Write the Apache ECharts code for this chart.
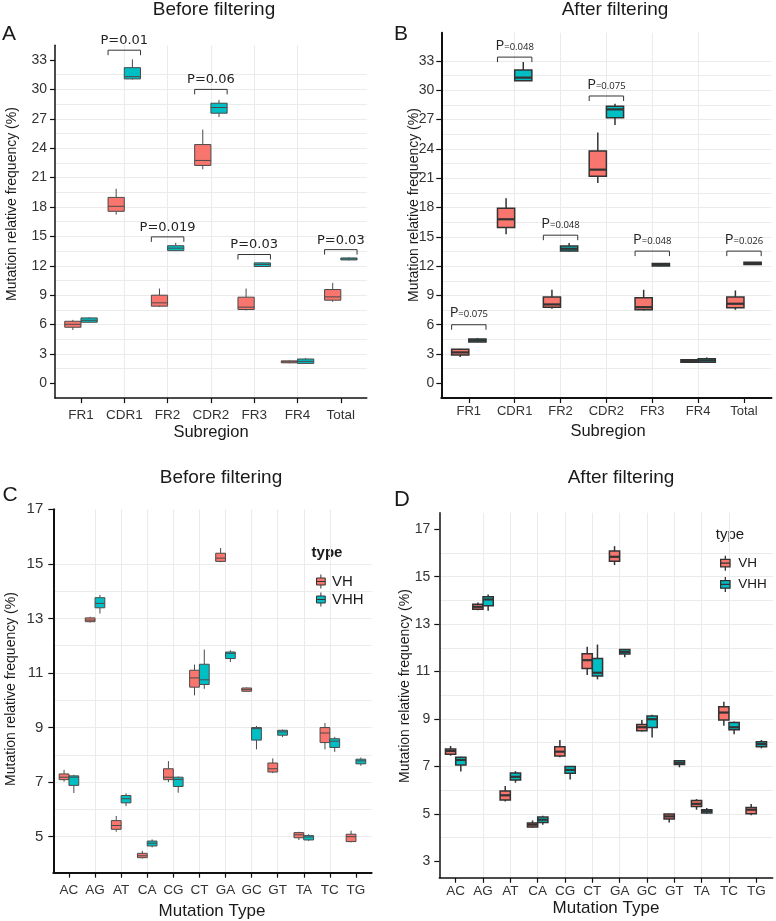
<!DOCTYPE html>
<html><head><meta charset="utf-8">
<script src="https://cdn.jsdelivr.net/npm/echarts@6/dist/echarts.min.js"></script>
<style>html,body{margin:0;padding:0;background:#fff}#chart{width:776px;height:921px}</style>
</head><body><div id="chart"></div>
<script>
// ---------------- data ----------------
const subregions = ['FR1','CDR1','FR2','CDR2','FR3','FR4','Total'];
const mutationTypes = ['AC','AG','AT','CA','CG','CT','GA','GC','GT','TA','TC','TG'];
const seriesNames = ['VH','VHH'];

// tick labels
const yTicksSub = [0,3,6,9,12,15,18,21,24,27,30,33];
const yTicksMutBefore = [5,7,9,11,13,15,17];
const yTicksMutAfter = [3,5,7,9,11,13,15,17];

// rows: [min, Q1, median, Q3, max]
const beforeSubVH = [
  [5.45,5.73,6.03,6.34,6.48],
  [17.22,17.56,18.07,18.98,19.86],
  [7.80,7.88,8.22,9.00,9.68],
  [21.84,22.24,22.75,24.37,25.90],
  [7.44,7.54,7.78,8.80,9.68],
  [2.05,2.10,2.20,2.30,2.35],
  [8.32,8.49,8.83,9.58,10.26]
];
const beforeSubVHH = [
  [6.17,6.24,6.44,6.68,6.75],
  [31.00,31.07,31.30,32.22,33.07],
  [13.50,13.55,13.80,14.05,14.35],
  [27.17,27.57,28.15,28.59,28.93],
  [11.88,11.93,12.14,12.30,12.35],
  [2.00,2.04,2.25,2.49,2.59],
  [12.55,12.60,12.70,12.80,12.85]
];
const afterSubVH = [
  [2.70,2.90,3.17,3.48,3.55],
  [15.26,15.95,16.80,17.93,18.96],
  [7.63,7.80,8.08,8.83,9.58],
  [20.50,21.20,21.88,23.80,25.68],
  [7.46,7.53,7.80,8.76,9.58],
  [2.10,2.15,2.28,2.42,2.45],
  [7.53,7.74,8.15,8.83,9.51]
];
const afterSubVHH = [
  [4.20,4.23,4.40,4.54,4.64],
  [30.95,30.98,31.30,32.08,32.90],
  [13.50,13.54,13.78,14.05,14.36],
  [26.45,27.20,28.05,28.36,28.63],
  [11.98,12.02,12.15,12.28,12.33],
  [2.12,2.15,2.35,2.52,2.66],
  [12.15,12.17,12.27,12.40,12.43]
];
const beforeMutVH = [
  [7.02,7.09,7.18,7.30,7.45],
  [12.85,12.88,12.94,13.02,13.06],
  [5.18,5.27,5.41,5.59,5.76],
  [4.20,4.23,4.30,4.39,4.48],
  [7.00,7.09,7.18,7.49,7.77],
  [10.18,10.48,10.82,11.10,11.31],
  [15.06,15.09,15.21,15.39,15.58],
  [10.32,10.33,10.39,10.45,10.47],
  [7.33,7.37,7.49,7.70,7.87],
  [4.88,4.96,5.07,5.15,5.18],
  [8.20,8.45,8.80,9.00,9.17],
  [4.79,4.82,5.00,5.09,5.22]
];
const beforeMutVHH = [
  [6.60,6.88,7.18,7.23,7.27],
  [13.18,13.39,13.55,13.76,13.86],
  [6.12,6.24,6.39,6.51,6.59],
  [4.61,4.66,4.76,4.84,4.90],
  [6.61,6.84,7.10,7.18,7.21],
  [10.42,10.58,10.75,11.32,11.86],
  [11.40,11.53,11.72,11.77,11.83],
  [8.20,8.54,8.96,9.00,9.06],
  [8.65,8.72,8.84,8.90,8.93],
  [4.85,4.88,4.99,5.04,5.09],
  [8.11,8.27,8.50,8.59,8.66],
  [7.60,7.67,7.78,7.84,7.90]
];
const afterMutVH = [
  [7.45,7.51,7.65,7.73,7.86],
  [13.59,13.63,13.73,13.84,13.91],
  [5.52,5.58,5.78,5.96,6.17],
  [4.41,4.44,4.54,4.61,4.72],
  [7.38,7.44,7.62,7.83,8.11],
  [10.85,11.13,11.48,11.75,12.05],
  [15.49,15.65,15.84,16.08,16.29],
  [8.47,8.50,8.65,8.77,8.96],
  [4.63,4.78,4.89,4.99,5.00],
  [5.17,5.31,5.42,5.56,5.62],
  [8.71,8.96,9.27,9.52,9.73],
  [4.94,5.00,5.17,5.27,5.41]
];
const afterMutVHH = [
  [6.78,7.06,7.27,7.38,7.41],
  [13.56,13.77,14.04,14.15,14.25],
  [6.31,6.42,6.56,6.72,6.80],
  [4.54,4.63,4.75,4.86,4.92],
  [6.45,6.71,6.85,6.99,7.01],
  [10.67,10.81,10.95,11.55,12.14],
  [11.60,11.74,11.83,11.93,11.95],
  [8.22,8.64,8.99,9.13,9.18],
  [6.96,7.08,7.15,7.24,7.27],
  [5.00,5.03,5.11,5.17,5.24],
  [8.35,8.54,8.65,8.85,8.89],
  [7.76,7.83,7.94,8.04,8.11]
];

// p-value annotations
const pCatsBefore = ['CDR1','FR2','CDR2','FR3','Total'];
const pLevelsBefore = [34.0,14.95,30.0,13.15,13.65];
const pValuesBefore = ['0.01','0.019','0.06','0.03','0.03'];
const pCatsAfter = ['FR1','CDR1','FR2','CDR2','FR3','Total'];
const pLevelsAfter = [6.0,33.4,15.17,29.42,13.54,13.54];
const pValuesAfter = ['0.075','0.048','0.048','0.075','0.048','0.026'];

// ---------------- chart ----------------
const FONT = '"Liberation Sans", Arial, sans-serif';
const RED = '#F8766D', TEAL = '#00BFC4';
const GRIDC = '#EBEBEB';

function range(a, b, step) { const r = []; for (let v = a; v <= b + 1e-9; v += step) r.push(+v.toFixed(4)); return r; }

const panels = [
  { box:{left:55, top:45.3, width:311.8, height:352.8}, cats:subregions, ymin:-1.5, ymax:34.5,
    ticks:yTicksSub, gridVals:range(0,33,1.5), vh:beforeSubVH, vhh:beforeSubVHH, heavy:false,
    yFont:14, xFont:13.5, yMargin:8, xMargin:10, axisW:1.5 },
  { box:{left:441.3, top:32.7, width:330.2, height:365.3}, cats:subregions, ymin:-1.5, ymax:35.9,
    ticks:yTicksSub, gridVals:range(0,34.5,1.5), vh:afterSubVH, vhh:afterSubVHH, heavy:true,
    yFont:14, xFont:13, yMargin:7, xMargin:7, axisW:2 },
  { box:{left:53.3, top:509.3, width:318.3, height:363.4}, cats:mutationTypes, ymin:3.68, ymax:17,
    ticks:yTicksMutBefore, gridVals:range(4,16,1), vh:beforeMutVH, vhh:beforeMutVHH, heavy:false,
    yFont:15, xFont:13.5, yMargin:10, xMargin:11, axisW:2 },
  { box:{left:439.3, top:512.7, width:333.4, height:365.1}, cats:mutationTypes, ymin:2.3, ymax:17.7,
    ticks:yTicksMutAfter, gridVals:range(3,17,1), vh:afterMutVH, vhh:afterMutVHH, heavy:true,
    yFont:14, xFont:13.5, yMargin:9, xMargin:6, axisW:1.5 }
];

function boxRender(offset, fill, stroke, lw, medLw) {
  return function (params, api) {
    const xc = api.value(0) + offset, hw = 0.1875;
    const xl = api.coord([xc - hw, api.value(2)])[0];
    const xr = api.coord([xc + hw, api.value(2)])[0];
    const cx = api.coord([xc, api.value(2)])[0];
    const yMin = api.coord([xc, api.value(1)])[1];
    const yQ1 = api.coord([xc, api.value(2)])[1];
    const yMed = api.coord([xc, api.value(3)])[1];
    const yQ3 = api.coord([xc, api.value(4)])[1];
    const yMax = api.coord([xc, api.value(5)])[1];
    return { type:'group', children:[
      { type:'line', shape:{x1:cx,y1:yMax,x2:cx,y2:yQ3}, style:{stroke:stroke, lineWidth:lw} },
      { type:'line', shape:{x1:cx,y1:yQ1,x2:cx,y2:yMin}, style:{stroke:stroke, lineWidth:lw} },
      { type:'rect', shape:{x:xl,y:yQ3,width:xr-xl,height:yQ1-yQ3}, style:{fill:fill, stroke:stroke, lineWidth:lw} },
      { type:'line', shape:{x1:xl,y1:yMed,x2:xr,y2:yMed}, style:{stroke:stroke, lineWidth:medLw} }
    ]};
  };
}

function bracketRender(values, richStyle) {
  return function (params, api) {
    const x = api.value(0), y = api.value(1);
    const pL = api.coord([x - 0.375, y]);
    const pR = api.coord([x + 0.375, y]);
    const t = 5;
    const v = values[params.dataIndex];
    const txt = richStyle
      ? { x:(pL[0]+pR[0])/2, y:pL[1]-4, text:'{p|P}{s|=' + v + '}', align:'center', verticalAlign:'bottom',
          rich:{ p:{fontSize:14.5, fontFamily:'"Open Sans", sans-serif', fill:'#222', verticalAlign:'bottom'},
                 s:{fontSize:9.5, fontFamily:'"Open Sans", sans-serif', fill:'#222', verticalAlign:'bottom', padding:[0,0,1,0]} } }
      : { x:(pL[0]+pR[0])/2, y:pL[1]-3, text:'P=' + v, align:'center', verticalAlign:'bottom',
          fontSize:13, fontFamily:'"DejaVu Sans", sans-serif', fill:'#222' };
    return { type:'group', children:[
      { type:'polyline', shape:{points:[[pL[0],pL[1]+t],[pL[0],pL[1]],[pR[0],pR[1]],[pR[0],pR[1]+t]]},
        style:{stroke:'#333', lineWidth:1, fill:null} },
      { type:'text', style:txt }
    ]};
  };
}

const grid = [], xAxis = [], yAxis = [], series = [];
panels.forEach((p, i) => {
  grid.push(Object.assign({ outerBoundsMode:'none', containLabel:false }, p.box));
  const n = p.cats.length;
  const catTicks = p.cats.map((c, k) => k + 1);
  xAxis.push({
    type:'value', gridIndex:i, min:0.4, max:n + 0.6,
    axisLine:{ show:true, onZero:false, lineStyle:{ color:'#111', width:p.axisW } },
    axisTick:{ show:true, customValues:catTicks, length:5, lineStyle:{ color:'#111', width:1.2 } },
    axisLabel:{ customValues:catTicks, margin:p.xMargin, color:'#333', fontSize:p.xFont, fontFamily:FONT,
      formatter: v => p.cats[Math.round(v) - 1] || '' },
    splitLine:{ show:true, showMinLine:false, showMaxLine:false, lineStyle:{ color:GRIDC, width:1 } }
  });
  // gridline axis
  yAxis.push({
    type:'value', gridIndex:i, position:'left', offset:0, min:p.ymin, max:p.ymax,
    axisLine:{ show:false, onZero:false }, axisTick:{ show:false, customValues:p.gridVals },
    axisLabel:{ show:false, customValues:p.gridVals },
    splitLine:{ show:true, showMinLine:false, showMaxLine:false, lineStyle:{ color:GRIDC, width:1 } }
  });
  // labelled axis
  yAxis.push({
    type:'value', gridIndex:i, position:'left', offset:0, min:p.ymin, max:p.ymax,
    axisLine:{ show:true, onZero:false, lineStyle:{ color:'#111', width:p.axisW } },
    axisTick:{ show:true, customValues:p.ticks, length:5, lineStyle:{ color:'#111', width:1.2 } },
    axisLabel:{ customValues:p.ticks, margin:p.yMargin, color:'#333', fontSize:p.yFont, fontFamily:FONT },
    splitLine:{ show:false }
  });
  const lw = p.heavy ? 1.5 : 1, medLw = p.heavy ? 2.2 : 1;
  const stroke = p.heavy ? '#333' : '#4a4a4a';
  [[p.vh, RED, -0.1875, 'VH'], [p.vhh, TEAL, 0.1875, 'VHH']].forEach(([rows, col, off, name]) => {
    series.push({
      type:'custom', name:name, coordinateSystem:'cartesian2d', xAxisIndex:i, yAxisIndex:2*i,
      itemStyle:{ color:col, borderColor:'#333', borderWidth:1 },
      encode:{ x:0, y:[1,2,3,4,5] },
      renderItem: boxRender(off, col, stroke, lw, medLw),
      data: rows.map((r, k) => [k + 1].concat(r)),
      silent:true, animation:false
    });
  });
});

series.push({
  type:'custom', name:'pBefore', coordinateSystem:'cartesian2d', xAxisIndex:0, yAxisIndex:0,
  encode:{ x:0, y:1 }, renderItem: bracketRender(pValuesBefore, false),
  data: pCatsBefore.map((c, k) => [subregions.indexOf(c) + 1, pLevelsBefore[k]]), silent:true, animation:false
});
series.push({
  type:'custom', name:'pAfter', coordinateSystem:'cartesian2d', xAxisIndex:1, yAxisIndex:2,
  encode:{ x:0, y:1 }, renderItem: bracketRender(pValuesAfter, true),
  data: pCatsAfter.map((c, k) => [subregions.indexOf(c) + 1, pLevelsAfter[k]]), silent:true, animation:false
});

const boxIcon = 'path://M5,0L5,4M0,4L10,4L10,12L0,12ZM0,8L10,8M5,12L5,16';

function txt(x, y, text, size, extra) {
  return Object.assign({ type:'text', x:x, y:y, silent:true,
    style:Object.assign({ text:text, fontSize:size, fontFamily:FONT, fill:'#1a1a1a', align:'center', verticalAlign:'middle' }, (extra && extra.style) || {}) },
    extra && extra.rotation ? { rotation: extra.rotation } : {});
}
const R = Math.PI / 2;

const option = {
  animation:false,
  backgroundColor:'#fff',
  grid, xAxis, yAxis, series,
  legend:[
    { left:311, top:569, orient:'vertical', itemWidth:12, itemHeight:14, itemGap:3, itemStyle:{ borderColor:'#333', borderWidth:1 },
      textStyle:{ fontSize:15, fontFamily:FONT, color:'#1a1a1a' }, selectedMode:false,
      data:seriesNames.map(s => ({ name:s, icon:boxIcon })) },
    { left:715, top:550, orient:'vertical', itemWidth:16, itemHeight:15, itemGap:5, itemStyle:{ borderColor:'#333', borderWidth:1.3 },
      textStyle:{ fontSize:13.5, fontFamily:FONT, color:'#1a1a1a' }, selectedMode:false,
      data:seriesNames.map(s => ({ name:s, icon:boxIcon })) }
  ],
  graphic:{ elements:[
    txt(214, 10, 'Before filtering', 19),
    txt(615, 10, 'After filtering', 19),
    txt(221, 478, 'Before filtering', 19),
    txt(621, 478, 'After filtering', 19),
    txt(9, 34, 'A', 21), txt(401, 34, 'B', 21), txt(10, 495, 'C', 21), txt(402, 500, 'D', 22),
    txt(12.5, 204, 'Mutation relative frequency (%)', 14, { rotation:R }),
    txt(414, 205, 'Mutation relative frequency (%)', 14, { rotation:R }),
    txt(11, 689, 'Mutation relative frequency (%)', 14, { rotation:R }),
    txt(405.5, 686, 'Mutation relative frequency (%)', 14, { rotation:R }),
    txt(211, 432, 'Subregion', 16.5),
    txt(608, 431, 'Subregion', 16.5),
    txt(212, 911, 'Mutation Type', 17),
    txt(606, 908, 'Mutation Type', 17),
    txt(327, 553, 'type', 15, { style:{ fontWeight:'bold' } }),
    txt(730, 535, 'type', 15)
  ]}
};

const chart = echarts.init(document.getElementById('chart'), null, { renderer:'canvas' });
chart.setOption(option);
</script>
</body></html>
